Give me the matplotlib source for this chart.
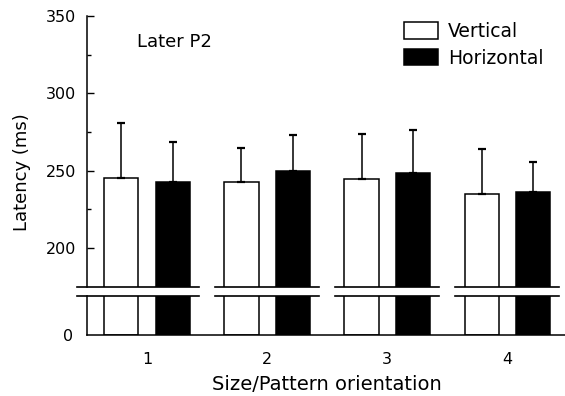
import numpy as np
import matplotlib.pyplot as plt
from matplotlib.patches import Patch

# Datos (latencia en ms, media y desviación)
groups = ['1', '2', '3', '4']
vertical = [245, 242.5, 244.5, 235]
horizontal = [242.5, 249.5, 248.5, 236]
vertical_sd = [36, 22, 29, 29]
horizontal_sd = [26, 23.5, 28, 19.5]

fig = plt.figure(figsize=(5.65, 3.96), dpi=100)
ax = fig.add_axes([0.154, 0.276, 0.846, 0.684])
ax2 = fig.add_axes([0.154, 0.154, 0.846, 0.0985], sharex=ax)

x = np.arange(1, len(groups) + 1)
w = 0.285
off = 0.214
for a in (ax, ax2):
    a.bar(x - off, vertical, w, color='white', edgecolor='black', lw=1.1)
    a.bar(x + off, horizontal, w, color='black', edgecolor='black', lw=1.1)

ax.errorbar(x - off, vertical, yerr=[np.zeros(4), vertical_sd], fmt='none',
            ecolor='black', elinewidth=1.1, capsize=3, capthick=1.6)
ax.errorbar(x + off, horizontal, yerr=[np.zeros(4), horizontal_sd], fmt='none',
            ecolor='black', elinewidth=1.1, capsize=3, capthick=1.6)

ax.set_ylim(175, 350)
ax2.set_ylim(0, 25)
ax.set_xlim(0.5, 4.48)

for s in ['top', 'right', 'bottom']:
    ax.spines[s].set_visible(False)
for s in ['top', 'right']:
    ax2.spines[s].set_visible(False)
for a in (ax, ax2):
    a.spines['left'].set_linewidth(1.1)
ax2.spines['bottom'].set_linewidth(1.1)

# Líneas de corte del eje
for i, c in enumerate(x):
    left = c - (0.58 if i == 0 else 0.436)
    right = c + 0.43
    ax.plot([left, right], [175, 175], color='black', lw=1.2, clip_on=False)
    ax2.plot([left, right], [25, 25], color='black', lw=1.2, clip_on=False)

ax.set_yticks([200, 250, 300, 350])
ax.set_yticks([225, 275, 325], minor=True)
ax.tick_params(axis='y', which='major', direction='in', length=5, width=1, labelsize=11.5, pad=8)
ax.tick_params(axis='y', which='minor', direction='in', length=3, width=1)
ax.tick_params(axis='x', bottom=False, labelbottom=False)

ax2.set_yticks([0])
ax2.tick_params(axis='y', length=0, labelsize=11.5, pad=10)
ax2.set_xticks(x)
ax2.set_xticklabels(groups)
ax2.tick_params(axis='x', length=0, pad=12, labelsize=11.5)

fig.text(137 / 565, 1 - 42 / 396, 'Later P2', va='center', fontsize=13)
fig.text(22 / 565, 1 - 172 / 396, 'Latency (ms)', rotation=90, va='center', ha='center', fontsize=13)
fig.text(327 / 565, 1 - 384 / 396, 'Size/Pattern orientation', va='center', ha='center', fontsize=14)

handles = [Patch(facecolor='white', edgecolor='black', lw=1.1),
           Patch(facecolor='black', edgecolor='black', lw=1.1)]
ax.legend(handles, ['Vertical', 'Horizontal'], loc='upper left',
          bbox_to_anchor=(404 / 565, 1 - 22 / 396), bbox_transform=fig.transFigure,
          frameon=False, fontsize=13.5, handlelength=1.8, handleheight=1.0,
          handletextpad=0.55, borderpad=0, borderaxespad=0, labelspacing=0.4)

plt.savefig('out.png', dpi=100)
